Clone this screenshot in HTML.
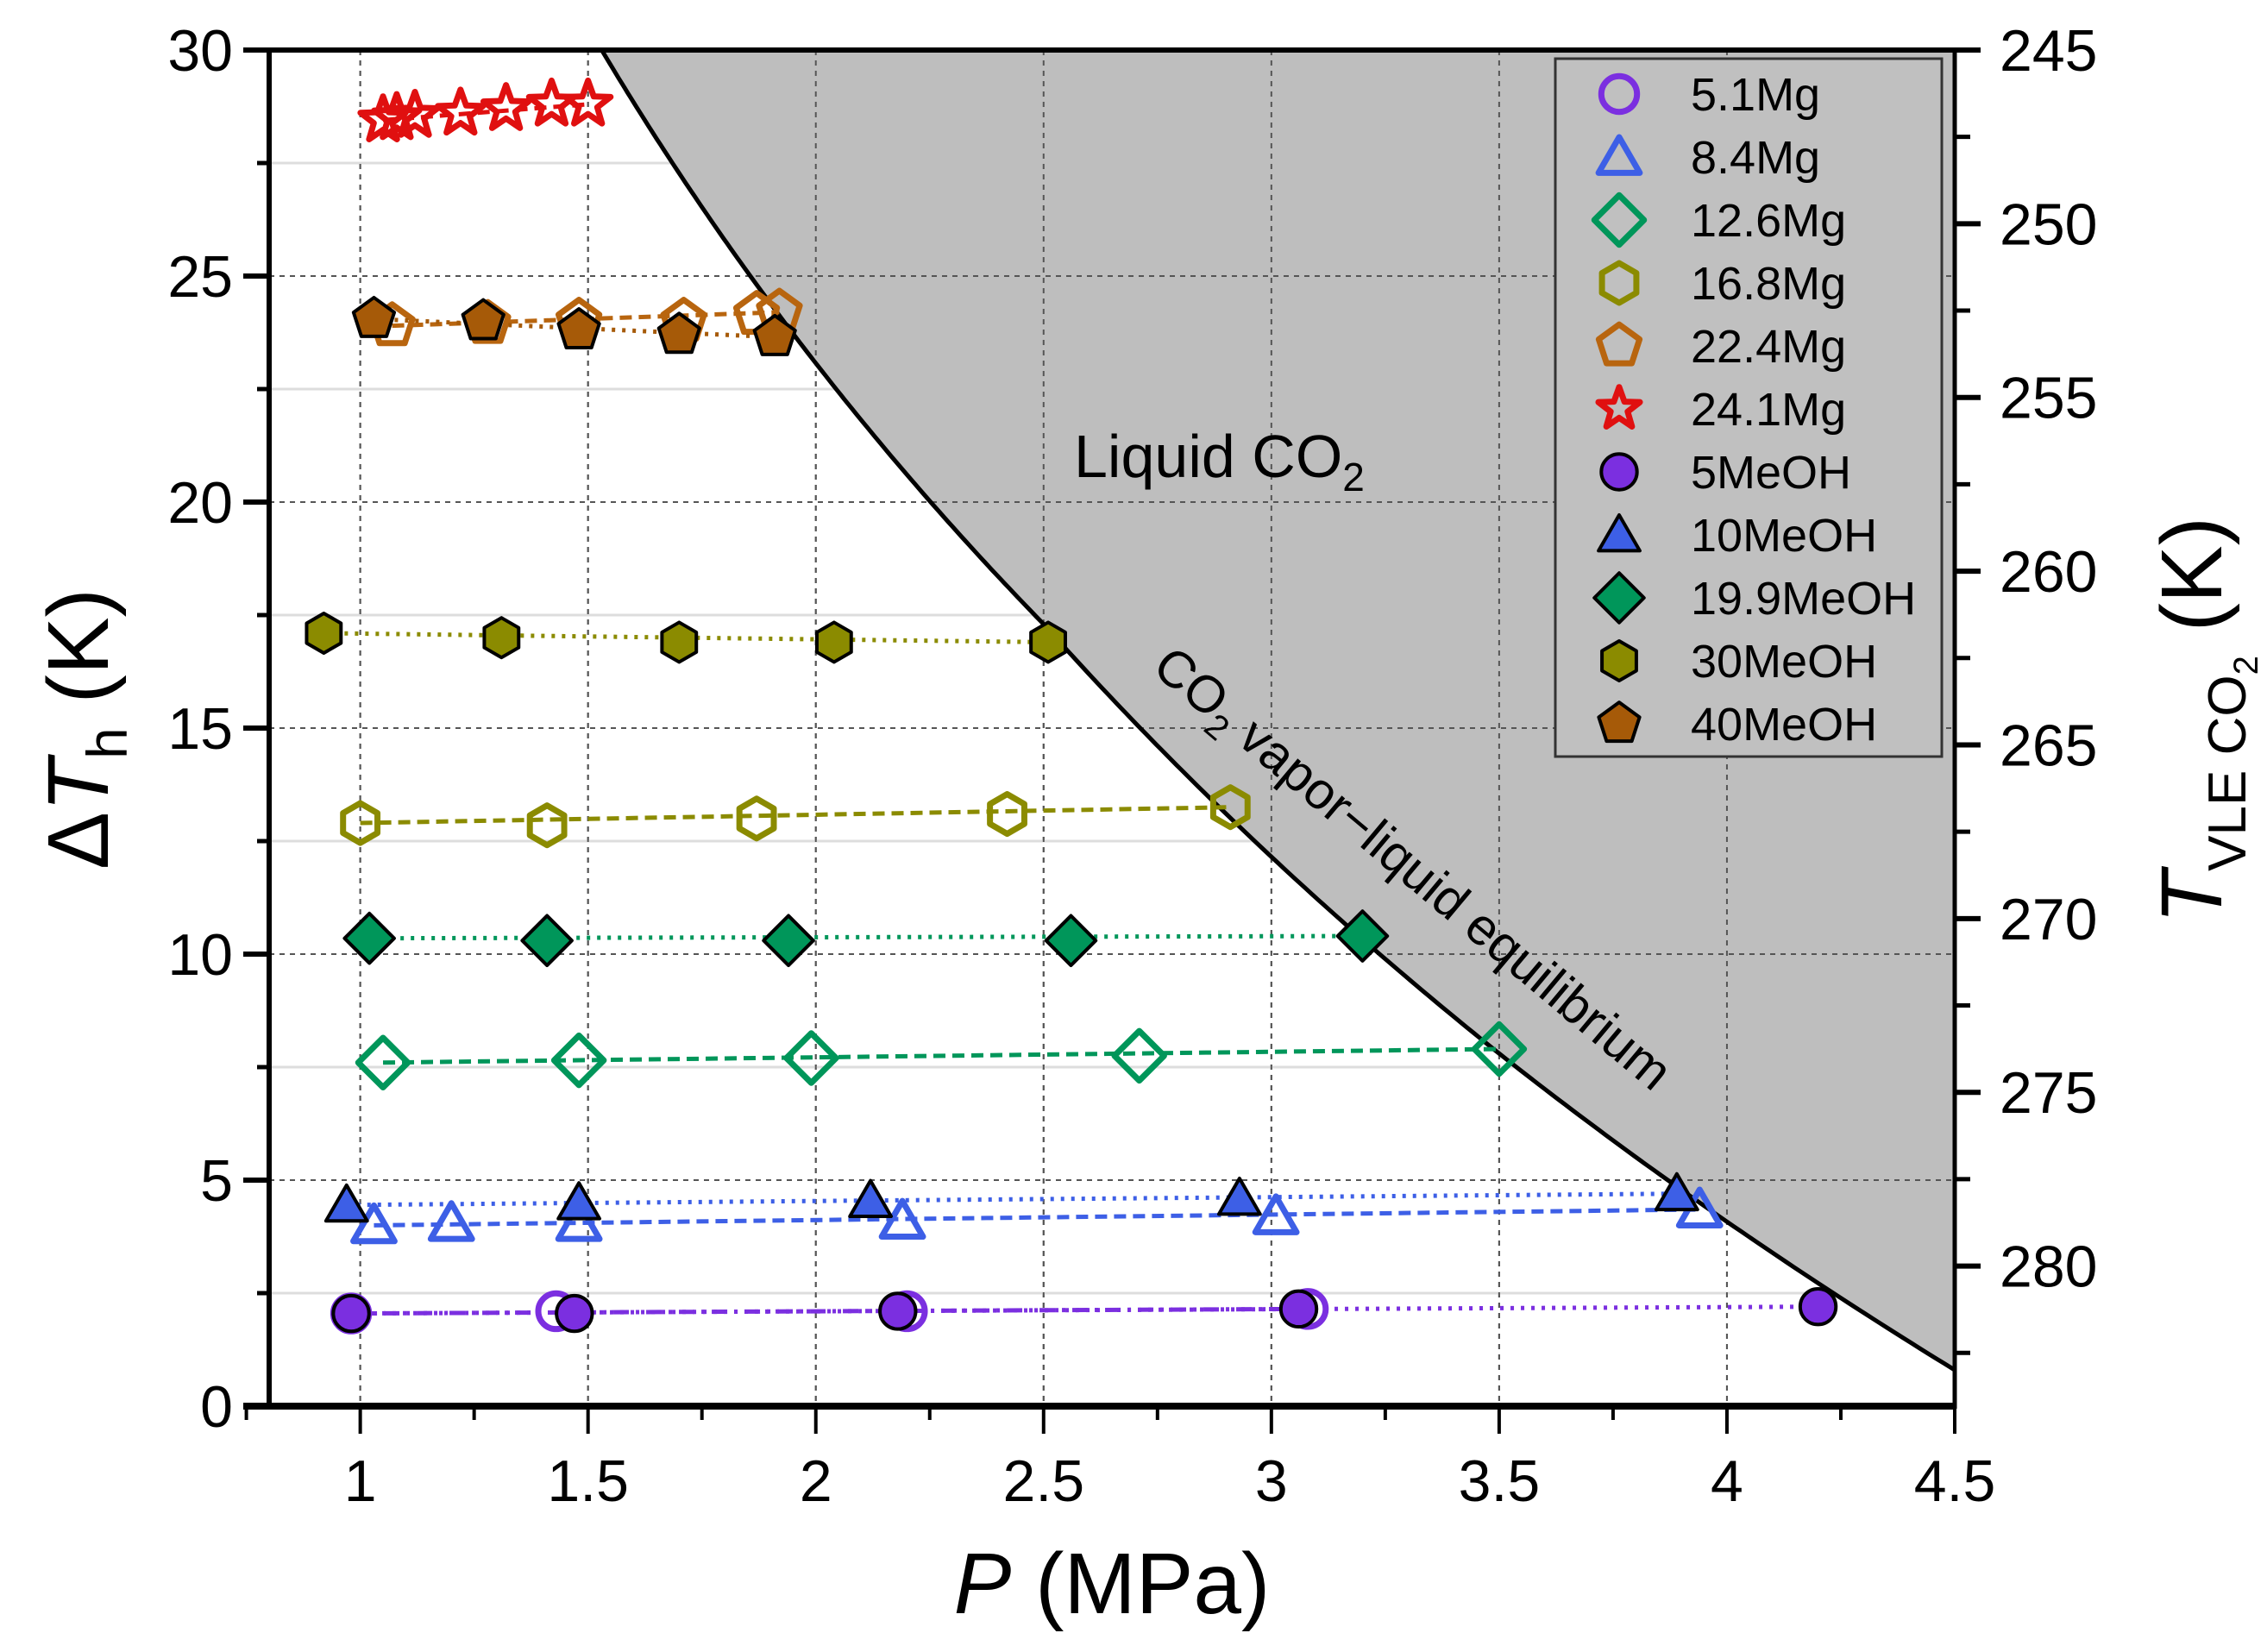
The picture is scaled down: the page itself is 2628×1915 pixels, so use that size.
<!DOCTYPE html>
<html><head><meta charset="utf-8"><style>
html,body{margin:0;padding:0;background:#fff;}
svg{display:block;font-family:"Liberation Sans",sans-serif;}
</style></head><body>
<svg id="chart" width="2628" height="1915" viewBox="0 0 2628 1915" xmlns="http://www.w3.org/2000/svg">
<defs><clipPath id="pc"><rect x="312" y="58" width="1954" height="1572"/></clipPath></defs>
<g id="grid"></g>
<g id="shade" clip-path="url(#pc)"></g>
<g id="series" clip-path="url(#pc)"></g>
<g id="axes"></g>
<g id="legend"></g>
<text x="1245" y="553" font-size="70">Liquid CO<tspan font-size="46" dy="16">2</tspan></text>
<text transform="translate(1625,1022) rotate(40)" text-anchor="middle" font-size="60">CO<tspan font-size="40" dy="14">2</tspan><tspan dy="-14"> vapor−liquid equilibrium</tspan></text>
<text x="1289" y="1870" text-anchor="middle" font-size="100"><tspan font-style="italic">P</tspan> (MPa)</text>
<text transform="translate(125,845) rotate(-90)" text-anchor="middle" font-size="100">Δ<tspan font-style="italic">T</tspan><tspan font-size="66" dy="22">h</tspan><tspan dy="-22"> (K)</tspan></text>
<text transform="translate(2575,835) rotate(-90)" text-anchor="middle" font-size="100"><tspan font-style="italic">T</tspan><tspan font-size="62" dy="28">VLE CO</tspan><tspan font-size="40" dy="14">2</tspan><tspan dy="-42"> (K)</tspan></text>
</svg>
<script>
const NS="http://www.w3.org/2000/svg";
const xTicks=[1,1.5,2,2.5,3,3.5,4,4.5];
const yTicks=[0,5,10,15,20,25,30];
const rTicks=[245,250,255,260,265,270,275,280];
const seriesNames=["5.1Mg","8.4Mg","12.6Mg","16.8Mg","22.4Mg","24.1Mg","5MeOH","10MeOH","19.9MeOH","30MeOH","40MeOH"];
const p51Mg=[0.98,1.43,2.2,3.08]; const t51Mg=[2.05,2.1,2.1,2.15];
const p84Mg=[1.03,1.2,1.48,2.19,3.01,3.94]; const t84Mg=[4.0,4.05,4.05,4.1,4.2,4.35];
const p126Mg=[1.05,1.48,1.99,2.71,3.5]; const t126Mg=[7.6,7.65,7.7,7.75,7.9];
const p168Mg=[1.0,1.41,1.87,2.42,2.91]; const t168Mg=[12.9,12.85,13.0,13.1,13.25];
const p224Mg=[1.07,1.28,1.48,1.71,1.87,1.92]; const t224Mg=[23.9,23.95,24.0,24.0,24.15,24.2];
const p241Mg=[1.05,1.08,1.12,1.22,1.32,1.42,1.5]; const t241Mg=[28.45,28.5,28.55,28.6,28.7,28.8,28.8];
const p5Me=[0.98,1.47,2.18,3.06,4.2]; const t5Me=[2.05,2.05,2.1,2.15,2.2];
const p10Me=[0.97,1.48,2.12,2.93,3.89]; const t10Me=[4.45,4.5,4.55,4.6,4.7];
const p199Me=[1.02,1.41,1.94,2.56,3.2]; const t199Me=[10.35,10.3,10.3,10.3,10.4];
const p30Me=[0.92,1.31,1.7,2.04,2.51]; const t30Me=[17.1,17.0,16.9,16.9,16.9];
const p40Me=[1.03,1.27,1.48,1.7,1.91]; const t40Me=[24.05,24.0,23.8,23.7,23.65];
const vleP=[1.4,1.53,2.5,3.5,4.5,4.7];
const vleT=[32.3,30,17.3,7.8,0.8,-0.4];

const X0=312,X1=2266,Y0=1630,Y1=58;
const sx=p=>X0+(p-0.8)/(4.5-0.8)*(X1-X0);
const sy=t=>Y0-t/30*(Y0-Y1);
const sr=T=>sy(30-(T-245)*(3.843/5));
function mk(tag,at,parent){const e=document.createElementNS(NS,tag);for(const k in at)e.setAttribute(k,at[k]);parent.appendChild(e);return e;}
const G=id=>document.getElementById(id);

const grid=G("grid");
xTicks.forEach(v=>{if(v<4.5){const l=mk("line",{x1:sx(v),x2:sx(v),y1:Y1,y2:Y0,stroke:"#555","stroke-width":2,"stroke-dasharray":"6 6"},grid);

}});
yTicks.forEach(v=>{if(v>0&&v<30){const l=mk("line",{x1:X0,x2:X1,y1:sy(v),y2:sy(v),stroke:"#555","stroke-width":2,"stroke-dasharray":"6 6"},grid);

}
if(v<30){const m=mk("line",{x1:X0,x2:X1,y1:sy(v+2.5),y2:sy(v+2.5),stroke:"#ddd","stroke-width":3},grid);

}});

// VLE curve: interpolate linearly in (ln P, T), sampled finely
const lnP=vleP.map(Math.log);
function vleAt(lp){let i=0;while(i<lnP.length-2&&lp>lnP[i+1])i++;const f=(lp-lnP[i])/(lnP[i+1]-lnP[i]);return vleT[i]+f*(vleT[i+1]-vleT[i]);}
const pts=[];const N=300;
for(let k=0;k<=N;k++){const lp=lnP[0]+(lnP[lnP.length-1]-lnP[0])*k/N;pts.push([sx(Math.exp(lp)),sy(vleAt(lp))]);}
const d="M"+pts.map(p=>p[0].toFixed(1)+","+p[1].toFixed(1)).join(" L");
const shade=G("shade");
const sh=mk("path",{d:d+` L${X1+200},${pts[pts.length-1][1]} L${X1+200},${Y1-200} L${pts[0][0]},${Y1-200} Z`,fill:"#bebebe"},shade);


xTicks.forEach(v=>{if(v<4.5){const l=mk("line",{x1:sx(v),x2:sx(v),y1:Y1,y2:Y0,stroke:"#555","stroke-width":2,"stroke-dasharray":"6 6"},shade);

}});
yTicks.forEach(v=>{if(v>0&&v<30){const l=mk("line",{x1:X0,x2:X1,y1:sy(v),y2:sy(v),stroke:"#555","stroke-width":2,"stroke-dasharray":"6 6"},shade);

}});
const cv=mk("path",{d:d,fill:"none",stroke:"#000","stroke-width":5,"stroke-linejoin":"round"},shade);



function shape(type,cx,cy,r){
 if(type==="circle")return ["circle",{cx,cy,r:r*0.9}];
 let n,rot=-90,rr=r;
 if(type==="tri"){n=3;rr=r*1.2;cy+=r*0.2;}
 if(type==="dia"){n=4;rr=r*1.25;}
 if(type==="hex"){n=6;}
 if(type==="pent"){n=5;rr=r*1.08;}
 if(type==="star"){const a=[];for(let i=0;i<10;i++){const ang=(-90+i*36)*Math.PI/180,q=i%2?r*0.45:r*1.1;a.push((cx+q*Math.cos(ang))+","+(cy+q*Math.sin(ang)));}return ["polygon",{points:a.join(" ")}];}
 const a=[];for(let i=0;i<n;i++){const ang=(rot+i*360/n)*Math.PI/180;a.push((cx+rr*Math.cos(ang))+","+(cy+rr*Math.sin(ang)));}
 return ["polygon",{points:a.join(" ")}];
}
const cfg=[
 [p51Mg,t51Mg,"circle","#7b2fe0",false,"18 8 4 8"],
 [p84Mg,t84Mg,"tri","#3d5fe6",false,"14 8"],
 [p126Mg,t126Mg,"dia","#00965a",false,"14 8"],
 [p168Mg,t168Mg,"hex","#8b8b00",false,"14 8"],
 [p224Mg,t224Mg,"pent","#b8650f",false,"14 8"],
 [p241Mg,t241Mg,"star","#e01010",false,"14 8"],
 [p5Me,t5Me,"circle","#7b2fe0",true,"4 8"],
 [p10Me,t10Me,"tri","#3d5fe6",true,"4 8"],
 [p199Me,t199Me,"dia","#00965a",true,"4 8"],
 [p30Me,t30Me,"hex","#8b8b00",true,"4 8"],
 [p40Me,t40Me,"pent","#a65a08",true,"4 8"]];
const ser=G("series");
cfg.forEach((c,si)=>{
 const [P,T,type,col,filled,dash]=c;
 const g=mk("g",{},ser);
 
 
 const ln=mk("line",{x1:sx(P[0]),y1:sy(T[0]),x2:sx(P[P.length-1]),y2:sy(T[T.length-1]),stroke:col,"stroke-width":5,"stroke-dasharray":dash},g);
 
 
 P.forEach((p,i)=>{const [tag,at]=shape(type,sx(p),sy(T[i]),type==="star"?25:23);
  at.fill=filled?col:"none";at.stroke=filled?"#000":col;at["stroke-width"]=filled?4:7;at["stroke-linejoin"]="round";
  const m=mk(tag,at,g);
  
  
 });
});

const ax=G("axes");
function L(a,name){const l=mk("line",Object.assign({stroke:"#000"},a),ax);return l;}
L({x1:X0,x2:X0,y1:Y1-3,y2:Y0+3,"stroke-width":6},"left-axis");
L({x1:X1,x2:X1,y1:Y1-3,y2:Y0+3,"stroke-width":5},"right-axis");
L({x1:X0-30,x2:X1,y1:Y0,y2:Y0,"stroke-width":8},"bottom-axis");
L({x1:X0-30,x2:X1,y1:Y1,y2:Y1,"stroke-width":6},"top-axis");
yTicks.forEach(v=>{L({x1:X0-30,x2:X0,y1:sy(v),y2:sy(v),"stroke-width":6},"y-tick");
 if(v<30)L({x1:X0-14,x2:X0,y1:sy(v+2.5),y2:sy(v+2.5),"stroke-width":5},"y-minor-tick");
 const t=mk("text",{x:X0-42,y:sy(v)+24,"text-anchor":"end","font-size":68},ax);t.textContent=v;
 });
xTicks.forEach(v=>{L({x1:sx(v),x2:sx(v),y1:Y0,y2:Y0+32,"stroke-width":4},"x-tick");
 if(v<4.5)L({x1:sx(v+0.25),x2:sx(v+0.25),y1:Y0,y2:Y0+16,"stroke-width":4},"x-minor-tick");
 const t=mk("text",{x:sx(v),y:Y0+110,"text-anchor":"middle","font-size":68},ax);t.textContent=v;
 });
L({x1:sx(0.75),x2:sx(0.75),y1:Y0,y2:Y0+16,"stroke-width":4},"x-minor-tick");
rTicks.forEach(v=>{L({x1:X1,x2:X1+30,y1:sr(v),y2:sr(v),"stroke-width":6},"right-tick");
 L({x1:X1,x2:X1+18,y1:sr(v+2.5),y2:sr(v+2.5),"stroke-width":5},"right-minor-tick");
 const t=mk("text",{x:X1+52,y:sr(v)+24,"font-size":68},ax);t.textContent=v;
 });

const lg=G("legend");
const box=mk("rect",{x:1803,y:68,width:448,height:809,fill:"#c0c0c0",stroke:"#333","stroke-width":3},lg);

cfg.forEach((c,i)=>{const y=109+i*73;const g=mk("g",{},lg);
 
 const [tag,at]=shape(c[2],1877,y,23);at.fill=c[4]?c[3]:"none";at.stroke=c[4]?"#000":c[3];at["stroke-width"]=c[4]?4:7;at["stroke-linejoin"]="round";
 mk(tag,at,g);
 const t=mk("text",{x:1960,y:y+19,"font-size":54},g);t.textContent=seriesNames[i];});
</script>
</body></html>
